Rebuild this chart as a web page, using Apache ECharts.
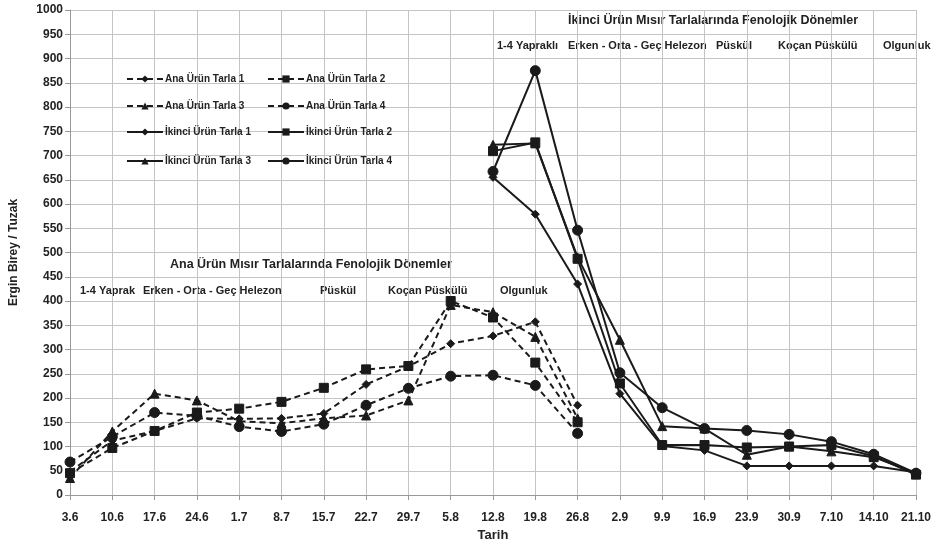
<!DOCTYPE html>
<html><head><meta charset="utf-8">
<script src="https://cdn.jsdelivr.net/npm/echarts@6/dist/echarts.min.js"></script>
<style>html,body{margin:0;padding:0;background:#fff}#c{width:938px;height:547px}</style>
</head><body><div id="c"></div>
<script>
const categories = ['3.6','10.6','17.6','24.6','1.7','8.7','15.7','22.7','29.7','5.8','12.8','19.8','26.8','2.9','9.9','16.9','23.9','30.9','7.10','14.10','21.10'];
const anaDates = ['3.6','10.6','17.6','24.6','1.7','8.7','15.7','22.7','29.7','5.8','12.8','19.8','26.8'];
const ikinciDates = ['12.8','19.8','26.8','2.9','9.9','16.9','23.9','30.9','7.10','14.10','21.10'];
const ana1 = [48, 112, 132, 158, 157, 158, 168, 228, 265, 312, 328, 357, 185];
const ana2 = [45, 97, 132, 170, 178, 192, 221, 259, 266, 400, 366, 273, 150];
const ana3 = [35, 131, 209, 195, 152, 148, 158, 164, 195, 392, 377, 326, 158];
const ana4 = [68, 120, 170, 163, 141, 131, 146, 185, 220, 245, 247, 226, 127];
const ik1 = [655, 579, 435, 209, 101, 92, 60, 60, 60, 60, 47];
const ik2 = [709, 727, 487, 230, 103, 103, 98, 100, 103, 80, 42];
const ik3 = [722, 725, 490, 320, 142, 137, 83, 100, 90, 78, 45];
const ik4 = [667, 875, 546, 252, 180, 137, 133, 125, 110, 84, 45];
const seriesNames = ['Ana Ürün Tarla 1','Ana Ürün Tarla 2','Ana Ürün Tarla 3','Ana Ürün Tarla 4','İkinci Ürün Tarla 1','İkinci Ürün Tarla 2','İkinci Ürün Tarla 3','İkinci Ürün Tarla 4'];
const anaTitle = 'Ana Ürün Mısır Tarlalarında Fenolojik Dönemler';
const ikinciTitle = 'İkinci Ürün Mısır Tarlalarında Fenolojik Dönemler';
const anaPhases = ['1-4 Yaprak','Erken - Orta - Geç Helezon','Püskül','Koçan Püskülü','Olgunluk'];
const ikinciPhases = ['1-4 Yapraklı','Erken - Orta - Geç Helezon','Püskül','Koçan Püskülü','Olgunluk'];

const FONT = '"Liberation Sans Narrow", "Arial Narrow", "Liberation Sans", sans-serif';
const INK = '#1a1a1a';
const symbols = ['diamond','rect','triangle','circle'];
const symSizes = [8, 9, 9, 10];

const chart = echarts.init(document.getElementById('c'), null, {renderer:'canvas'});
const allData = [ana1, ana2, ana3, ana4, ik1, ik2, ik3, ik4];
const series = allData.map((vals, i) => {
  const isAna = i < 4;
  const dates = isAna ? anaDates : ikinciDates;
  return {
    name: seriesNames[i],
    type: 'line',
    data: vals.map((v, k) => [dates[k], v]),
    symbol: symbols[i % 4],
    symbolSize: symSizes[i % 4],
    showSymbol: true,
    lineStyle: {color: INK, width: 2, type: isAna ? [6, 4] : 'solid'},
    itemStyle: {color: INK, borderColor: INK},
    emphasis: {disabled: true},
    animation: false,
    z: 3
  };
});

const legendTops = [74, 101, 127, 156];
const legends = seriesNames.map((n, i) => ({
  data: [n],
  left: (i % 2) ? 267 : 126,
  top: legendTops[Math.floor(i / 2)],
  padding: 0,
  itemWidth: 36,
  itemHeight: 9,
  itemGap: 0,
  selectedMode: false,
  textStyle: {fontFamily: FONT, fontSize: 10, fontWeight: 'bold', color: '#222', padding: [0,0,0,-3]}
}));

const tStyle = (txt, size) => ({text: txt, fontFamily: FONT, fontSize: size, fontWeight: 'bold', fill: '#222'});
const anaPhaseX = [80, 143, 320, 388, 500];
const ikPhaseX = [497, 568, 716, 778, 883];
const graphics = [];
graphics.push({type: 'text', left: 170, top: 258, style: tStyle(anaTitle, 12.5)});
anaPhases.forEach((p, i) => graphics.push({type: 'text', left: anaPhaseX[i], top: 285, style: tStyle(p, 11)}));
graphics.push({type: 'text', left: 568, top: 14, style: tStyle(ikinciTitle, 12.5)});
ikinciPhases.forEach((p, i) => graphics.push({type: 'text', left: ikPhaseX[i], top: 40, style: tStyle(p, 11)}));

chart.setOption({
  animation: false,
  backgroundColor: '#fff',
  grid: {left: 65, right: 22, top: 10, bottom: 50, containLabel: false},
  legend: legends,
  xAxis: {
    type: 'category', data: categories, boundaryGap: false,
    name: 'Tarih', nameLocation: 'middle', nameGap: 34,
    nameTextStyle: {fontFamily: FONT, fontSize: 13, fontWeight: 'bold', color: '#222'},
    axisLine: {show: true, lineStyle: {color: '#999', width: 1}},
    axisTick: {show: true, alignWithLabel: true, length: 5, lineStyle: {color: '#999'}},
    axisLabel: {fontFamily: FONT, fontSize: 12, fontWeight: 'bold', color: '#222', margin: 17, interval: 0},
    splitLine: {show: true, lineStyle: {color: '#c4c4c4', width: 1}}
  },
  yAxis: {
    type: 'value', min: 0, max: 1000, interval: 50,
    name: 'Ergin Birey / Tuzak', nameLocation: 'middle', nameGap: 50, nameRotate: 90,
    nameTextStyle: {fontFamily: FONT, fontSize: 12, fontWeight: 'bold', color: '#222'},
    axisLine: {show: true, lineStyle: {color: '#999', width: 1}},
    axisTick: {show: true, length: 5, lineStyle: {color: '#999'}},
    axisLabel: {fontFamily: FONT, fontSize: 12, fontWeight: 'bold', color: '#222', margin: 7, formatter: v => String(v)},
    splitLine: {show: true, lineStyle: {color: '#c4c4c4', width: 1}}
  },
  graphic: graphics,
  series: series
});
</script></body></html>
